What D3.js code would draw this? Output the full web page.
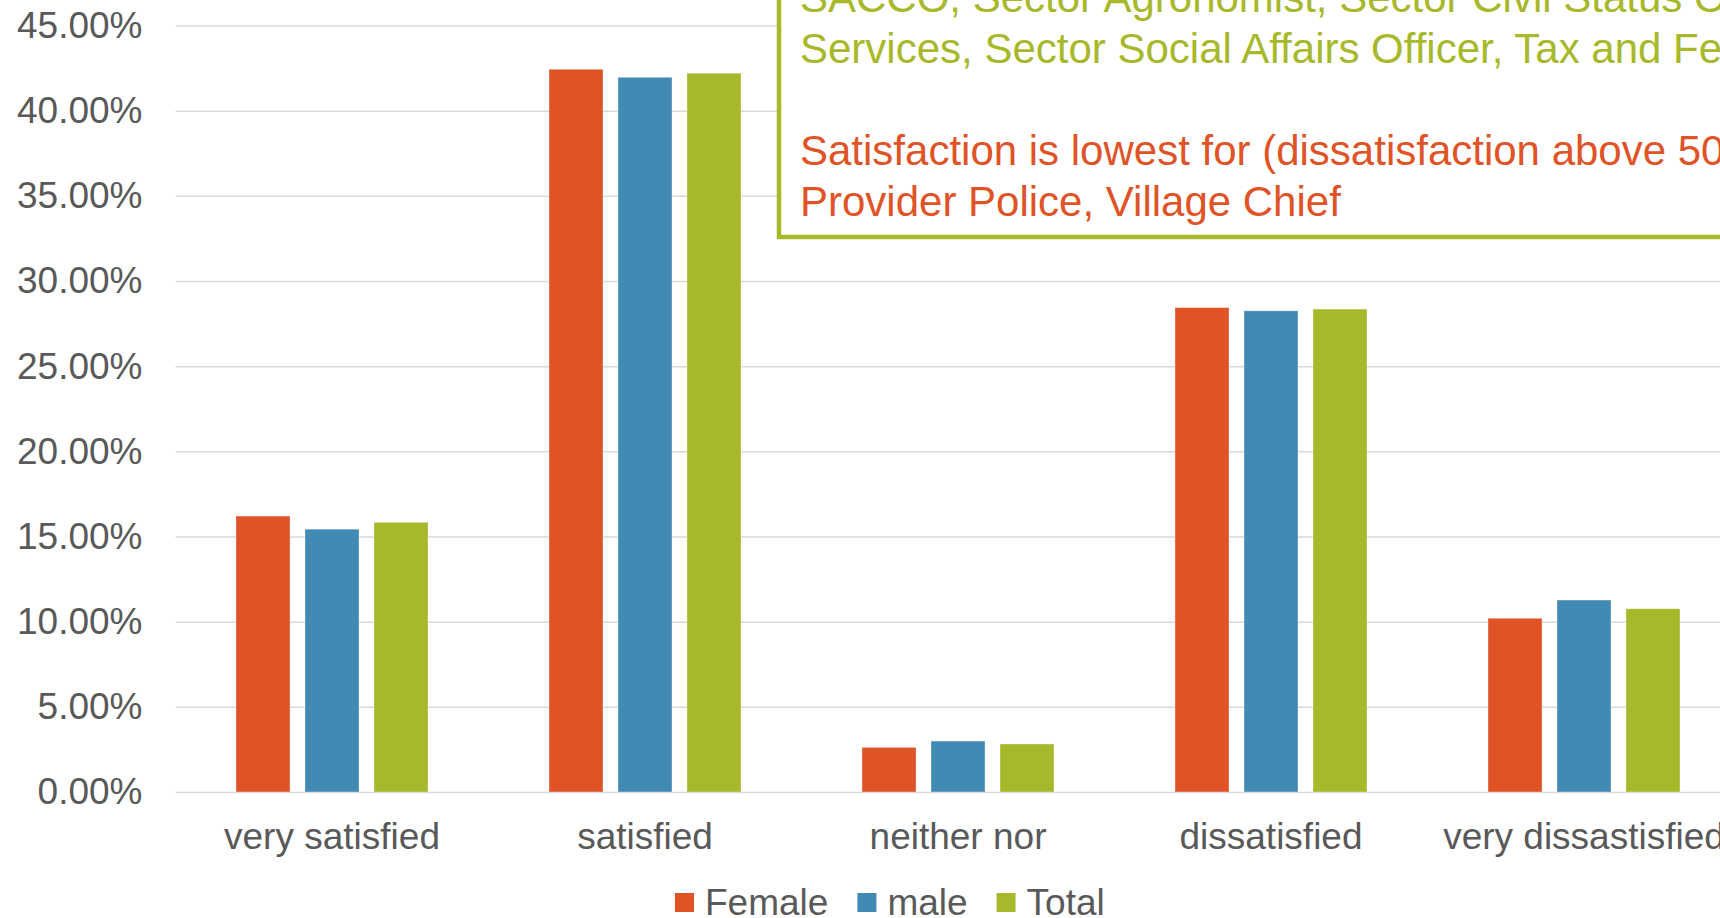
<!DOCTYPE html>
<html>
<head>
<meta charset="utf-8">
<script src="https://cdn.jsdelivr.net/npm/d3@7"></script>
<style>
  html, body { margin: 0; padding: 0; background: #fff; overflow: hidden; }
  svg { display: block; font-family: "Liberation Sans", Arial, sans-serif; }
</style>
</head>
<body>
<div id="vis"></div>
<script>

var categories = ['very satisfied', 'satisfied', 'neither nor', 'dissatisfied', 'very dissastisfied'];
var seriesNames = ['Female', 'male', 'Total'];
var female = [0.1620, 0.4243, 0.0262, 0.2844, 0.1020];
var male = [0.1543, 0.4196, 0.0299, 0.2825, 0.1127];
var total = [0.1583, 0.4220, 0.0282, 0.2835, 0.1076];
var yTicks = [0, 0.05, 0.10, 0.15, 0.20, 0.25, 0.30, 0.35, 0.40, 0.45];

var noteGreen = [
  'SACCO, Sector Agronomist, Sector Civil Status Officer, Sector Land',
  'Services, Sector Social Affairs Officer, Tax and Fees Collector'
];
var noteRed = [
  'Satisfaction is lowest for (dissatisfaction above 50%): Health',
  'Provider Police, Village Chief'
];

var width = 1720;
var height = 918;

var colors = d3.scaleOrdinal()
  .domain(seriesNames)
  .range(['#e05327', '#418ab3', '#a7b82a']);

var textColor = '#595959';
var gridColor = '#d9d9d9';

var svg = d3.select('#vis')
  .append('svg')
  .attr('width', width)
  .attr('height', height);

var x0 = d3.scaleBand()
  .domain(categories)
  .range([175.5, 1740.5]);

var x1 = d3.scaleBand()
  .domain(seriesNames)
  .range([0, x0.bandwidth()])
  .paddingInner(0.217)
  .paddingOuter(0.877);

var y = d3.scaleLinear()
  .domain([0, 0.45])
  .range([792, 25.5]);

var rows = categories.map(function (c, i) {
  return { cat: c, values: [female[i], male[i], total[i]] };
});

// gridlines + y labels
var yAxis = d3.axisLeft(y)
  .tickValues(yTicks)
  .tickFormat(d3.format('.2%'))
  .tickSize(-(x0.range()[1] - x0.range()[0]))
  .tickPadding(33);

var yG = svg.append('g')
  .attr('transform', 'translate(' + x0.range()[0] + ',0)')
  .call(yAxis);

yG.select('.domain').remove();
yG.selectAll('.tick line')
  .attr('stroke', gridColor)
  .attr('stroke-width', 1.5);
yG.selectAll('.tick text')
  .attr('fill', textColor)
  .attr('font-size', 37)
  .attr('font-family', '"Liberation Sans", Arial, sans-serif');

// bars
var groups = svg.selectAll('.group')
  .data(rows)
  .enter().append('g')
  .attr('class', 'group')
  .attr('transform', function (d) { return 'translate(' + x0(d.cat) + ',0)'; });

groups.selectAll('rect')
  .data(function (d) {
    return d.values.map(function (v, i) { return { key: seriesNames[i], value: v }; });
  })
  .enter().append('rect')
  .attr('x', function (d) { return x1(d.key); })
  .attr('y', function (d) { return y(d.value); })
  .attr('width', x1.bandwidth())
  .attr('height', function (d) { return y(0) - y(d.value); })
  .attr('fill', function (d) { return colors(d.key); })
  .attr('stroke', 'rgba(255,255,255,0.35)')
  .attr('stroke-width', 1);

// x labels
var xAxis = d3.axisBottom(x0).tickSize(0).tickPadding(0);
var xG = svg.append('g')
  .attr('transform', 'translate(0,' + y(0) + ')')
  .call(xAxis);
xG.select('.domain').remove();
xG.selectAll('.tick text')
  .attr('y', 57)
  .attr('dy', 0)
  .attr('fill', textColor)
  .attr('font-size', 37)
  .attr('font-family', '"Liberation Sans", Arial, sans-serif');

// legend
var legend = svg.append('g').attr('class', 'legend');
var lx = 675;
seriesNames.forEach(function (name) {
  var item = legend.append('g').attr('transform', 'translate(' + lx + ',0)');
  item.append('rect')
    .attr('x', 0)
    .attr('y', 893)
    .attr('width', 19)
    .attr('height', 19)
    .attr('fill', colors(name));
  var t = item.append('text')
    .attr('x', 30)
    .attr('y', 915)
    .attr('fill', textColor)
    .attr('font-size', 37)
    .text(name);
  lx += 30 + t.node().getComputedTextLength() + 29;
});

// annotation box
var note = svg.append('g').attr('class', 'note');
note.append('rect')
  .attr('x', 779)
  .attr('y', -20)
  .attr('width', 1100)
  .attr('height', 257)
  .attr('fill', '#fff')
  .attr('stroke', '#a7b82a')
  .attr('stroke-width', 4.5);

var noteLines = noteGreen.map(function (s) { return { text: s, color: '#a7b82a' }; })
  .concat([{ text: '', color: '#a7b82a' }])
  .concat(noteRed.map(function (s) { return { text: s, color: '#e05327' }; }));

note.selectAll('text')
  .data(noteLines)
  .enter().append('text')
  .attr('x', 800)
  .attr('y', function (d, i) { return 12 + i * 51; })
  .attr('fill', function (d) { return d.color; })
  .attr('font-size', 42)
  .text(function (d) { return d.text; });

</script>
</body>
</html>
